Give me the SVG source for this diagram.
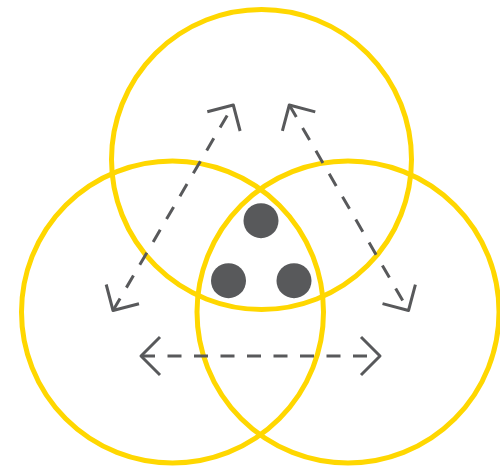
<svg xmlns="http://www.w3.org/2000/svg" width="500" height="470" viewBox="0 0 500 470">
  <style>
    .ring { fill: none; stroke: #FFD700; stroke-width: 5; }
    .dot { fill: #58595b; }
    .link { fill: none; stroke: #58595b; stroke-width: 3; stroke-dasharray: 14 12.5; marker-start: url(#chev); marker-end: url(#chev); }
  </style>
  <defs>
    <marker id="chev" markerUnits="userSpaceOnUse" viewBox="-25 -25 30 50" refX="0" refY="0" markerWidth="30" markerHeight="50" orient="auto-start-reverse">
      <path d="M-19,-19 L0,0 L-19,19" fill="none" stroke="#58595b" stroke-width="3" stroke-linejoin="round" stroke-linecap="butt"/>
    </marker>
  </defs>
  <rect width="500" height="470" fill="#ffffff"/>
  <g id="circle-top"><circle class="ring" cx="261.5" cy="159.5" r="150"/></g>
  <g id="circle-left"><circle class="ring" cx="172.5" cy="312" r="151"/></g>
  <g id="circle-right"><circle class="ring" cx="348" cy="312" r="151"/></g>
  <g id="connectors">
    <line class="link" x1="113" y1="310.5" x2="233.3" y2="105"/>
    <line class="link" x1="289.3" y1="105" x2="408.5" y2="310.5"/>
    <line class="link" x1="141" y1="356" x2="380" y2="356"/>
  </g>
  <g id="dot-top"><circle class="dot" cx="261" cy="220.7" r="17.5"/></g>
  <g id="dot-left"><circle class="dot" cx="228.5" cy="280.7" r="17.5"/></g>
  <g id="dot-right"><circle class="dot" cx="294" cy="280.7" r="17.5"/></g>
</svg>
